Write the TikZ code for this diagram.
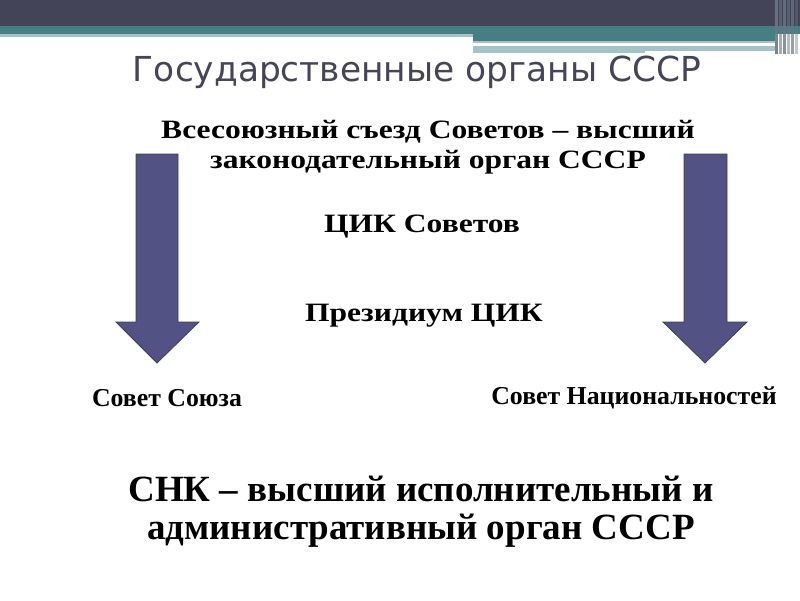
\documentclass[tikz,border=0pt]{standalone}
\usepackage{fontspec}
\setmainfont{Liberation Serif}
\newfontfamily\titlefont{DejaVu Sans}
\definecolor{barDark}{HTML}{444458}
\definecolor{barTeal}{HTML}{457E83}
\definecolor{barLight}{HTML}{A3C3C4}
\definecolor{arrowFill}{HTML}{525284}
\definecolor{arrowEdge}{HTML}{3E3E6A}
\definecolor{titleGray}{HTML}{454555}
\newcommand{\widetxt}[1]{\scalebox{1.19}[1]{#1}}
\tikzset{
  bigarrow/.style={fill=arrowFill, draw=arrowEdge, line width=0.8pt, line join=miter},
  headtxt/.style={font=\fontsize{26.5}{30}\selectfont\bfseries, align=center, inner sep=0pt},
  smalltxt/.style={font=\fontsize{25.8}{30}\selectfont\bfseries, inner sep=0pt},
  bottomtxt/.style={font=\fontsize{37}{38}\selectfont\bfseries, align=center, inner sep=0pt},
}
\begin{document}
\begin{tikzpicture}[x=1pt,y=-1pt]
\useasboundingbox (0,0) rectangle (800,600);
\fill[white] (0,0) rectangle (800,600);
% top bar
\fill[barDark] (0,0) rectangle (800,26);
\fill[barTeal] (0,26) rectangle (800,34);
\fill[barLight] (0,34) rectangle (473,37);
\fill[barTeal] (473,34) rectangle (775,41);
\fill[barLight] (473,41) rectangle (775,43);
\fill[barLight] (473,46) rectangle (775,53);
\fill[white] (645,51) rectangle (775,53);
\foreach \xx/\op in {775/0.9,779/0.6,783/0.8,787/0.5,791/0.7,795/0.4}{
  \fill[barDark!60!barLight, opacity=\op] (\xx,0) rectangle ++(3,54);
}
% title
\node[font=\titlefont\fontsize{34.4}{40}\selectfont, text=titleGray, inner sep=0pt] (title) at (417,72) {Государственные органы СССР};
% header text
\node[headtxt] (congress) at (428,147) {\widetxt{Всесоюзный съезд Советов – высший}\\\widetxt{законодательный орган СССР}};
\node[headtxt] (cik) at (422,227) {\widetxt{ЦИК Советов}};
\node[headtxt] (pres) at (424,316) {\widetxt{Президиум ЦИК}};
% arrows
\path[bigarrow] (136,154) -- (178,154) -- (178,322) -- (199,322) -- (157,363) -- (116,322) -- (136,322) -- cycle;
\path[bigarrow] (684,154) -- (727,154) -- (727,322) -- (747,322) -- (705,363) -- (663,322) -- (684,322) -- cycle;
% lower labels
\node[smalltxt] (union) at (167,398) {Совет Союза};
\node[smalltxt] (nat) at (634,398) {Совет Национальностей};
\node[bottomtxt] (snk) at (421,512) {СНК – высший исполнительный и\\административный орган СССР};
\end{tikzpicture}
\end{document}
